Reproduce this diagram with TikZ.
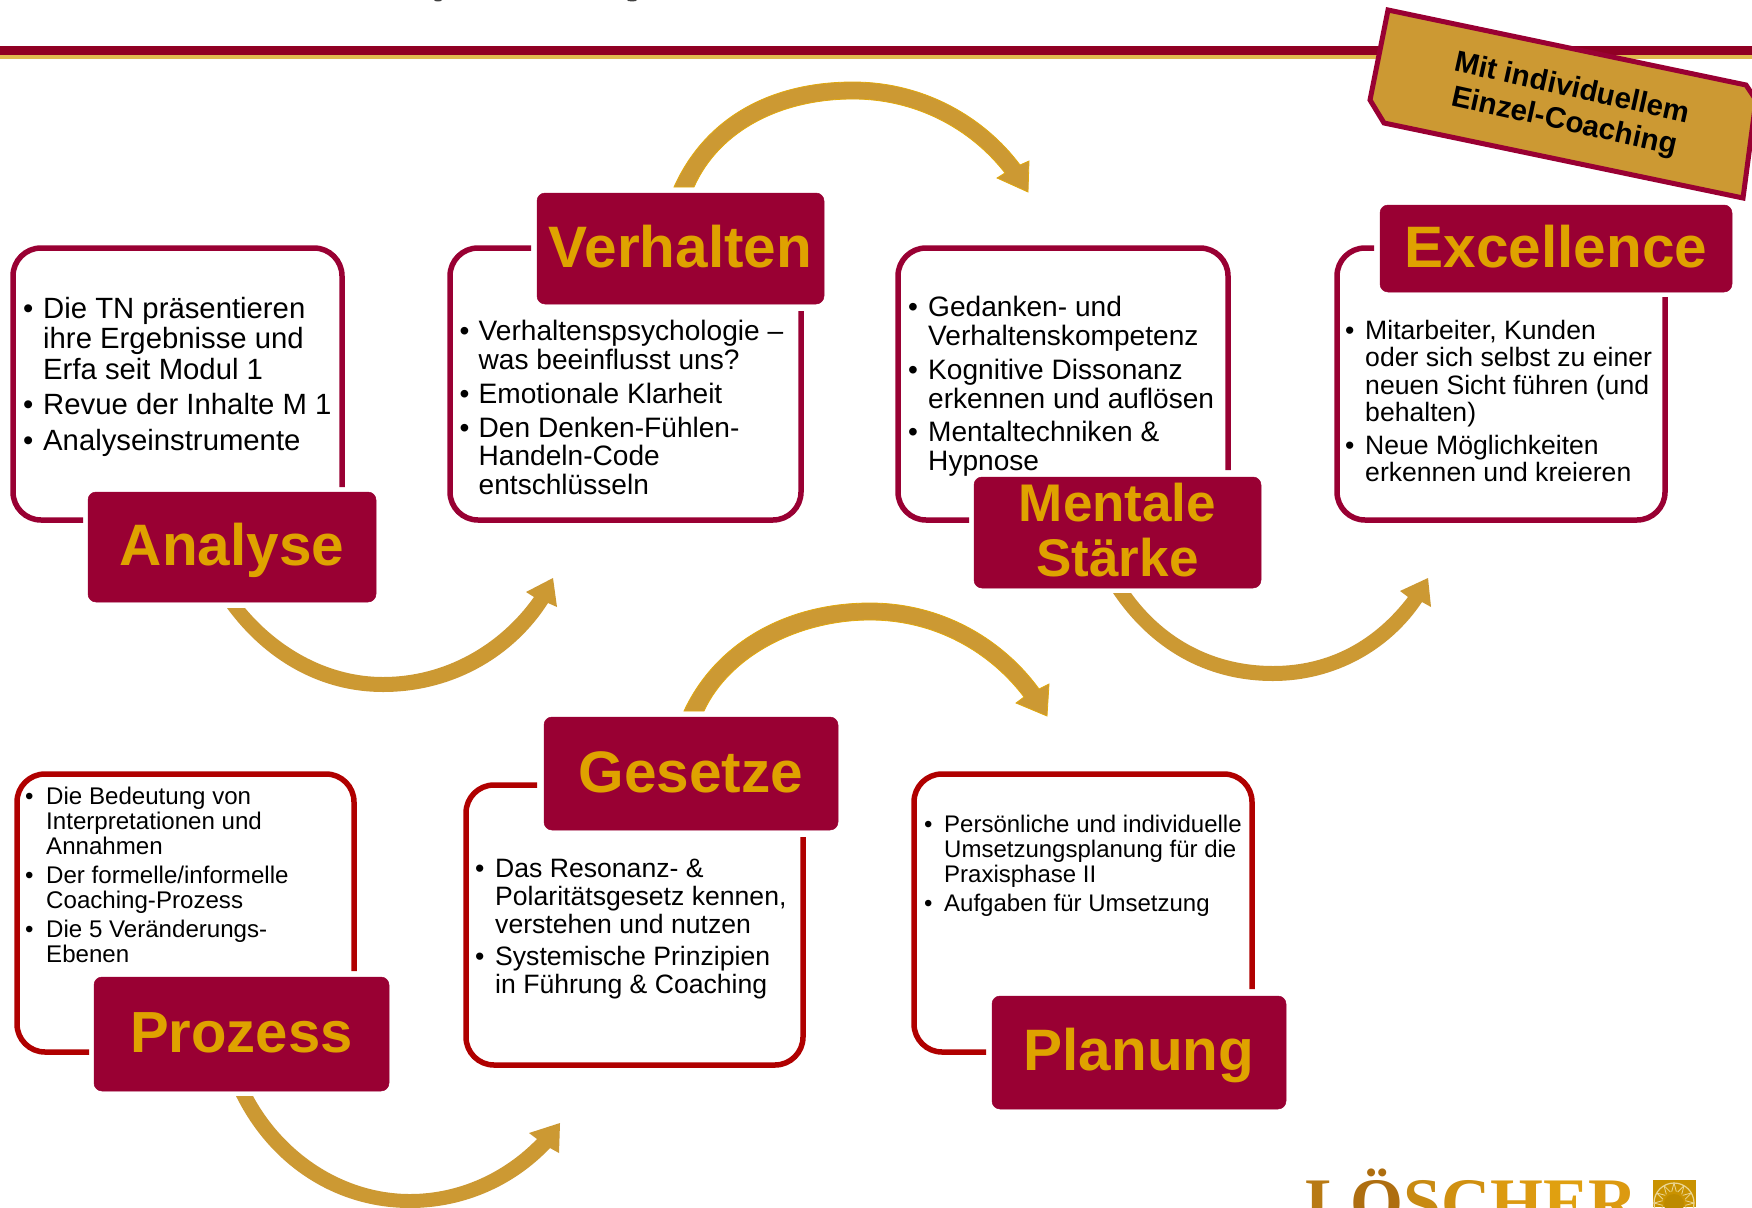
\documentclass[tikz,border=0pt]{standalone}
\usepackage{fontspec}
\setmainfont{Liberation Sans}
\newfontfamily\logofont{Liberation Serif}
\definecolor{wine}{HTML}{990033}
\definecolor{brick}{HTML}{B00000}
\definecolor{linewine}{HTML}{900024}
\definecolor{linegold}{HTML}{E0BC50}
\definecolor{labelgold}{HTML}{DFA200}
\definecolor{arrowgold}{HTML}{CC9933}
\definecolor{arrowedge}{HTML}{E0A80F}
\newlength{\bw}
\newcommand{\bu}{\makebox[\bw][l]{•}}
\newcommand{\ct}{\hspace*{\bw}}
\tikzset{
  x=1pt,y=-1pt,
  label box/.style={fill=wine,draw=wine,line width=0.5pt,rounded corners=8pt,inner sep=0pt,align=center,
    text=labelgold,font=\fontsize{58.5}{58}\selectfont\bfseries},
  base drop/.style={text height={2*#1*1pt},text depth=0pt},
  frame wine/.style={draw=wine,line width=5.5pt,rounded corners=28pt},
  frame brick/.style={draw=brick,line width=5.5pt,rounded corners=28pt},
  body/.style={anchor=north west,inner sep=0pt,align=left,text=black},
  bullet width/.code={\setlength{\bw}{#1pt}},
  flow plain/.style={fill=arrowgold},
  flow edged/.style={fill=arrowgold,draw=arrowedge,line width=0.8pt,line join=miter},
}
\newcommand{\lbox}[7]{% name, l, t, r, b, text, extra
  \node[label box,#7,minimum width={(#4-#2)*1pt},minimum height={(#5-#3)*1pt}] (#1) at ({(#2+#4)/2},{(#3+#5)/2}) {#6};}
\begin{document}
\begin{tikzpicture}
\useasboundingbox (0,0) rectangle (1752,1207);
\begin{scope}
\clip (0,0) rectangle (1752,1207);
\fill[white] (0,0) rectangle (1752,1207);
% remnants of the cropped title
\fill[black!75] (438,0) ellipse [x radius=4,y radius=1.5];
\fill[black!75] (632,0) ellipse [x radius=5,y radius=1.5];
% header rule
\fill[linewine] (0,46) rectangle (1752,55);
\fill[linegold] (0,55) rectangle (1752,59);
% tag
\filldraw[fill=arrowgold,draw=wine,line width=5pt,line join=miter]
  (1388,10) -- (1746,85) -- (1756,100) -- (1743,198) -- (1384,123) -- (1370,100) -- cycle;
\node[rotate=-12.5,align=center,inner sep=0pt,text=black,font=\fontsize{29.5}{34}\selectfont\bfseries] (tag) at (1568,106) {Mit individuellem\\Einzel-Coaching};

% flow arrows
\filldraw[flow edged] (674,187)
  .. controls (705,118) and (770,82) .. (853,82)
  .. controls (925,82) and (985,118) .. (1020,165)
  -- (1029,161) -- (1028,192) -- (997,178) -- (1005,173)
  .. controls (970,128) and (915,99) .. (853,99)
  .. controls (783,99) and (720,129) .. (694,187) -- cycle;
\filldraw[flow edged] (684,711)
  .. controls (715,644) and (785,603) .. (870,603)
  .. controls (945,603) and (1005,642) .. (1039,689)
  -- (1049,684) -- (1047,716) -- (1016,703) -- (1024,697)
  .. controls (990,652) and (935,620) .. (870,620)
  .. controls (800,620) and (730,655) .. (704,711) -- cycle;
\fill[flow plain] (227,608)
  .. controls (265,660) and (320,692) .. (383,692)
  .. controls (455,692) and (515,655) .. (548,603)
  -- (557,607) -- (553,578) -- (526,592) -- (534,597)
  .. controls (500,645) and (445,677) .. (383,677)
  .. controls (330,677) and (280,650) .. (245,608) -- cycle;
\fill[flow plain] (1113,593)
  .. controls (1150,648) and (1205,681) .. (1273,681)
  .. controls (1335,681) and (1390,650) .. (1422,602)
  -- (1431,607) -- (1428,578) -- (1400,591) -- (1408,597)
  .. controls (1375,640) and (1330,666) .. (1273,666)
  .. controls (1215,666) and (1165,640) .. (1131,593) -- cycle;
\fill[flow plain] (236,1096)
  .. controls (270,1165) and (335,1208) .. (410,1208)
  .. controls (465,1208) and (515,1185) .. (550,1148)
  -- (559,1153) -- (560,1123) -- (529,1133) -- (537,1139)
  .. controls (505,1172) and (460,1194) .. (410,1194)
  .. controls (345,1194) and (285,1155) .. (253,1096) -- cycle;

% content frames
\draw[frame wine] (342,487) -- (342,248) -- (13,248) -- (13,520) -- (83,520);
\draw[frame wine] (531,248) -- (450,248) -- (450,520) -- (801,520) -- (801,311);
\draw[frame wine] (1228,470) -- (1228,248) -- (898,248) -- (898,520) -- (969,520);
\draw[frame wine] (1374,248) -- (1337,248) -- (1337,520) -- (1665,520) -- (1665,297);
\draw[frame brick] (354,971) -- (354,774) -- (17,774) -- (17,1052) -- (89,1052);
\draw[frame brick] (537,785) -- (466,785) -- (466,1065) -- (803,1065) -- (803,837);
\draw[frame brick] (1252,989) -- (1252,774) -- (914,774) -- (914,1052) -- (986,1052);

% labels
\lbox{analyse}{88}{492}{376}{602}{Analyse}{base drop=18}
\lbox{verhalten}{537}{193}{824}{304}{Verhalten}{base drop=18.8}
\lbox{mental}{974}{477}{1261}{588}{Mentale\\Stärke\rule[-4.5pt]{0pt}{1pt}}{font=\fontsize{53}{55}\selectfont\bfseries}
\lbox{excellence}{1380}{205}{1732}{292}{Excellence}{base drop=18.8}
\lbox{prozess}{94}{977}{389}{1091}{Prozess}{base drop=18.3,font=\fontsize{58}{58}\selectfont\bfseries}
\lbox{gesetze}{544}{717}{838}{830}{Gesetze}{base drop=18.8}
\lbox{planung}{992}{996}{1286}{1109}{Planung}{base drop=18.3}

% body texts
\node[body,bullet width=20,font=\fontsize{29.3}{30.5}\selectfont] (tanalyse) at (23,297) {\bu Die TN präsentieren\\\ct ihre Ergebnisse und\\\ct Erfa seit Modul 1\\[5pt]\bu Revue der Inhalte M 1\\[5pt]\bu Analyseinstrumente};
\node[body,bullet width=19,font=\fontsize{28.1}{28.5}\selectfont] (tverhalten) at (459.5,320) {\bu Verhaltenspsychologie –\\\ct was beeinflusst uns?\\[5.5pt]\bu Emotionale Klarheit\\[5.5pt]\bu Den Denken-Fühlen-\\\ct Handeln-Code\\\ct entschlüsseln};
\node[body,bullet width=20,font=\fontsize{28.1}{29}\selectfont] (tmental) at (908,296) {\bu Gedanken- und\\\ct Verhaltenskompetenz\\[4.5pt]\bu Kognitive Dissonanz\\\ct erkennen und auflösen\\[4.5pt]\bu Mentaltechniken \&\\\ct Hypnose};
\node[body,bullet width=20,font=\fontsize{26.6}{27.4}\selectfont] (texcellence) at (1345,320) {\bu Mitarbeiter, Kunden\\\ct oder sich selbst zu einer\\\ct neuen Sicht führen (und\\\ct behalten)\\[5pt]\bu Neue Möglichkeiten\\\ct erkennen und kreieren};
\node[body,bullet width=21,font=\fontsize{24.1}{25}\selectfont] (tprozess) at (25,786.5) {\bu Die Bedeutung von\\\ct Interpretationen und\\\ct Annahmen\\[4pt]\bu Der formelle/informelle\\\ct Coaching-Prozess\\[4pt]\bu Die 5 Veränderungs-\\\ct Ebenen};
\node[body,bullet width=20,font=\fontsize{26.6}{27.9}\selectfont] (tgesetze) at (475,859) {\bu Das Resonanz- \&\\\ct Polaritätsgesetz kennen,\\\ct verstehen und nutzen\\[4.5pt]\bu Systemische Prinzipien\\\ct in Führung \& Coaching};
\node[body,bullet width=20,font=\fontsize{24}{25}\selectfont] (tplanung) at (924,815) {\bu Persönliche und individuelle\\\ct Umsetzungsplanung für die\\\ct Praxisphase II\\[4pt]\bu Aufgaben für Umsetzung};

% logo, cut by the lower page edge
\node[anchor=base west,inner sep=0pt,font=\fontsize{68}{68}\logofont\bfseries,text=labelgold] (logo) at (1305,1225)
  {\textcolor[HTML]{B87A14}{L}\textcolor[HTML]{AE6E10}{Ö}\textcolor[HTML]{C88A12}{S}\textcolor[HTML]{D09010}{C}\textcolor[HTML]{DC9A10}{H}\textcolor[HTML]{E0A010}{E}\textcolor[HTML]{DC9A10}{R}};
\fill[labelgold!90!black] (1653,1180) rectangle (1696,1207);
\draw[linegold!60!white,line width=1.2pt] (1674,1203) circle [radius=20];
\foreach \a in {0,30,...,330}{
  \draw[linegold!60!white,line width=0.8pt] (1674,1203) ++(\a:20) -- ++({\a+165}:9);
  \draw[linegold!60!white,line width=0.8pt] (1674,1203) ++(\a:20) -- ++({\a-165}:9);
}
\fill[labelgold!85!black] (1674,1204) circle [radius=10];
\end{scope}
\end{tikzpicture}
\end{document}
